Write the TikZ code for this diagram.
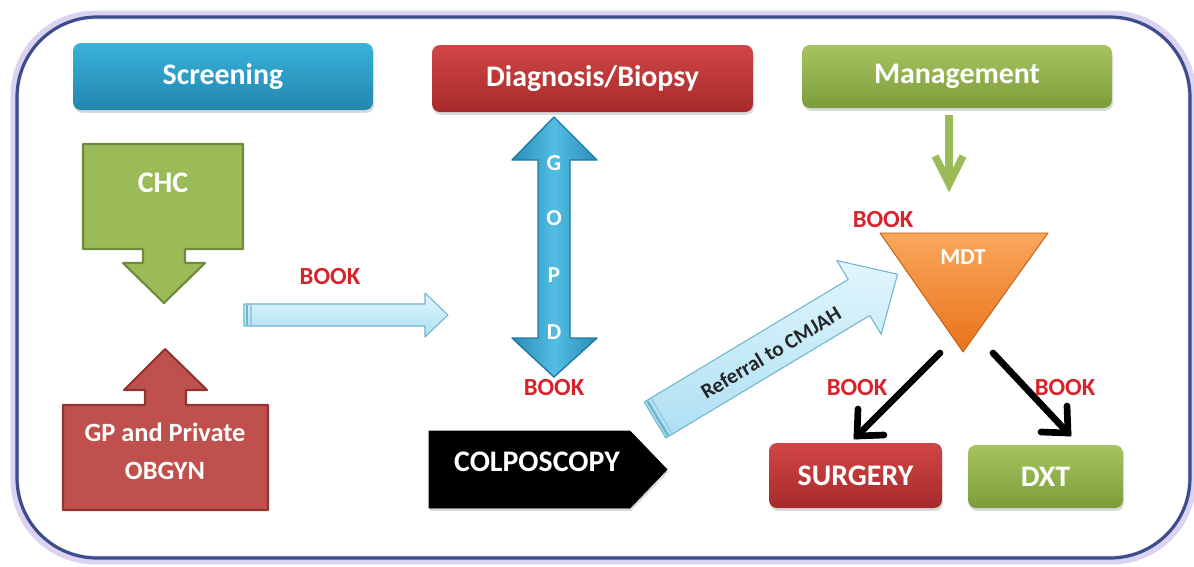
\documentclass[tikz,border=0pt]{standalone}
\usepackage{fontspec}
\setmainfont{Carlito}
\usetikzlibrary{shadows,calc}
\definecolor{scrtop}{HTML}{38B2DA}
\definecolor{scrbot}{HTML}{2386AD}
\definecolor{diagtop}{HTML}{D24545}
\definecolor{diagbot}{HTML}{A62A2A}
\definecolor{mgtop}{HTML}{A6C561}
\definecolor{mgbot}{HTML}{7C9C3A}
\definecolor{chcfill}{HTML}{9BBB59}
\definecolor{chcdraw}{HTML}{6F8A3A}
\definecolor{gpfill}{HTML}{C0504D}
\definecolor{gpdraw}{HTML}{8E3432}
\definecolor{gopdmid}{HTML}{52BDE2}
\definecolor{gopdside}{HTML}{2A8DB8}
\definecolor{gopddraw}{HTML}{1F7BA3}
\definecolor{lbtop}{HTML}{E2F6FD}
\definecolor{lbbot}{HTML}{ADDFF3}
\definecolor{lbdraw}{HTML}{6FB4CF}
\definecolor{mdttop}{HTML}{FAA75C}
\definecolor{mdtbot}{HTML}{E8731A}
\definecolor{bookred}{HTML}{D9232A}
\definecolor{framedark}{HTML}{3D4D8C}
\definecolor{frameglow}{HTML}{DCD2F2}
\definecolor{greenarr}{HTML}{9BBB59}
\begin{document}
\begin{tikzpicture}[x=0.02cm,y=-0.02cm,
  lbl/.style={text=white,font=\fontsize{17}{20}\selectfont\bfseries},
  book/.style={text=bookred,font=\fontsize{14}{16}\selectfont\bfseries},
  shade/.style={drop shadow={opacity=0.3,shadow xshift=0.6pt,shadow yshift=-1.6pt}},
  hdr/.style={rounded corners=4.5pt,draw=none,shade,lbl,inner sep=0pt},
  lightarrow/.style={draw=lbdraw,line width=0.6pt,top color=lbtop,bottom color=lbbot},
  gopdletter/.style={text=white,font=\fontsize{13}{15}\selectfont\bfseries},
  blkline/.style={line width=3.8pt,line cap=round,line join=miter},
  grnline/.style={line width=4.2pt,draw=greenarr,line join=miter}
]
\useasboundingbox (0,0) rectangle (1194,566);

% outer frame
\draw[line width=5pt,frameglow,rounded corners=1.6cm] (15,15) rectangle (1192,560);
\draw[line width=1.8pt,framedark,rounded corners=1.6cm] (17,17) rectangle (1190,558);

% header boxes
\node[hdr,top color=scrtop,bottom color=scrbot,minimum width=6cm,minimum height=1.34cm] (screen) at (223,76.5) {Screening};
\node[hdr,top color=diagtop,bottom color=diagbot,minimum width=6.42cm,minimum height=1.34cm] (diag) at (592.5,78.5) {Diagnosis/Biopsy};
\node[hdr,top color=mgtop,bottom color=mgbot,minimum width=6.2cm,minimum height=1.26cm] (mgmt) at (957,76.5) {Management};

% CHC down arrow callout
\draw[fill=chcfill,draw=chcdraw,line width=1.2pt,line join=round]
  (83,144) -- (243,144) -- (243,249) -- (185,249) -- (185,263) -- (205,263) -- (164,303)
  -- (123,263) -- (143,263) -- (143,249) -- (83,249) -- cycle;
\node[lbl] (chc) at (163,183) {CHC};

% GP up arrow callout
\draw[fill=gpfill,draw=gpdraw,line width=1.2pt,line join=round]
  (63,510) -- (268,510) -- (268,405) -- (186,405) -- (186,390) -- (207,390) -- (165,349)
  -- (124,390) -- (145,390) -- (145,405) -- (63,405) -- cycle;
\node[lbl,font=\fontsize{15}{21.5}\selectfont\bfseries,align=center] (gp) at (165,451) {GP and Private\\OBGYN};

% horizontal light arrow
\draw[lightarrow,line join=round]
  (244,304) -- (425,304) -- (425,293) -- (448,315) -- (425,337) -- (425,326) -- (244,326) -- cycle;
\fill[lbdraw] (246,305) rectangle (248,325);
\fill[lbdraw!70] (250,305) rectangle (251.5,325);
\node[book] (book1) at (330,277) {BOOK};

% GOPD double arrow
\draw[draw=gopddraw,line width=0.8pt,left color=gopdside,right color=gopdside,middle color=gopdmid,line join=round]
  (554,117) -- (597,160) -- (570,160) -- (570,338) -- (597,338) -- (554,377)
  -- (512,338) -- (538,338) -- (538,160) -- (512,160) -- cycle;
\node[gopdletter] (g1) at (554,163) {G};
\node[gopdletter] (g2) at (554,218) {O};
\node[gopdletter] (g3) at (554,275) {P};
\node[gopdletter] (g4) at (554,332) {D};
\node[book] (book2) at (554,388) {BOOK};

% colposcopy
\draw[fill=black,shade] (429,431) -- (630,431) -- (667,469.5) -- (630,508) -- (429,508) -- cycle;
\node[lbl] (colpo) at (537,462) {COLPOSCOPY};

% referral arrow
\begin{scope}[shift={(655,420)},rotate=31]
  \draw[lightarrow,line join=round]
    (0,-21) -- (238,-21) -- (238,-43) -- (283,0) -- (238,43) -- (238,21) -- (0,21) -- cycle;
  \fill[lbdraw] (2,-20) rectangle (4.5,20);
  \fill[lbdraw!70] (7,-20) rectangle (8.5,20);
  \node[rotate=31,text=black!85,font=\fontsize{12}{14}\selectfont\bfseries,inner sep=0pt] (referral) at (134,2) {Referral to CMJAH};
\end{scope}

% MDT triangle
\draw[top color=mdttop,bottom color=mdtbot,draw=mdtbot!80!black,line width=0.5pt,line join=round]
  (880,233) -- (1048,233) -- (963,352) -- cycle;
\node[text=white,font=\fontsize{13}{15}\selectfont\bfseries] (mdt) at (963,257) {MDT};
\node[book] (book3) at (883,220) {BOOK};

% green arrow Management -> MDT
\coordinate (gstart) at (949,115);
\coordinate (gend) at (949,184);
\draw[grnline] (gstart) -- ($(gend)+(0,-5)$);
\draw[grnline] ($(gend)+(-14,-28)$) -- (gend) -- ($(gend)+(14,-28)$);

% outcome boxes
\node[hdr,top color=diagtop,bottom color=diagbot,minimum width=3.46cm,minimum height=1.3cm] (surgery) at (855.5,475.5) {SURGERY};
\node[hdr,top color=mgtop,bottom color=mgbot,minimum width=3.1cm,minimum height=1.26cm] (dxt) at (1045.5,476.5) {DXT};

% black arrows
\coordinate (ls) at (940,353);
\coordinate (le) at (857,436);
\coordinate (rs) at (993,353);
\coordinate (re) at (1068,433);
\draw[blkline] (ls) -- (le);
\draw[blkline] ($(le)+(1,-27)$) -- (le) -- ($(le)+(27,-1)$);
\draw[blkline] (rs) -- (re);
\draw[blkline] ($(re)+(-1,-27)$) -- (re) -- ($(re)+(-27,-1)$);
\node[book] (book4) at (857,388) {BOOK};
\node[book] (book5) at (1065,388) {BOOK};
\end{tikzpicture}
\end{document}
